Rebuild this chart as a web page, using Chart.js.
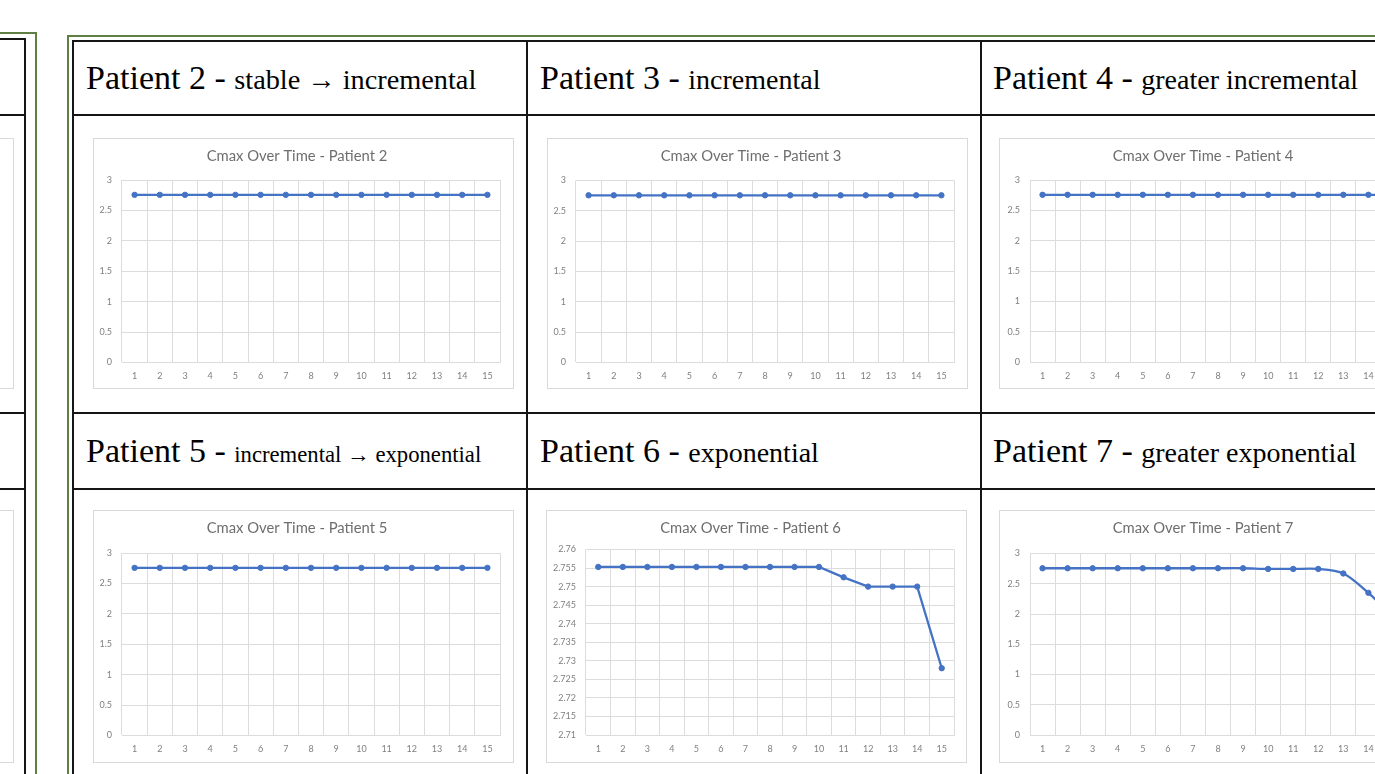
<!DOCTYPE html>
<html>
<head>
<meta charset="utf-8">
<script src="https://cdn.jsdelivr.net/npm/chart.js@4.4.1/dist/chart.umd.min.js"></script>
<style>
  html, body { margin: 0; padding: 0; background: #fff; }
  #page { position: relative; width: 1375px; height: 774px; overflow: hidden; background: #fff; }
  .rule { position: absolute; background: #151515; }
  .frame { position: absolute; background: #5f8045; }
  .box { position: absolute; box-sizing: border-box; border: 1px solid #d9d9d9; background: #fff; }
  .box canvas { position: absolute; left: 0; top: 0; filter: blur(0.45px); }
  .head { position: absolute; font-family: "Liberation Serif", "Times New Roman", serif;
          font-size: 34px; line-height: 40px; white-space: nowrap; color: #000; }
  .head .sub { font-size: 28px; }
</style>
</head>
<body>
<div id="page"></div>
<script>
// Sampling times (x axis categories)
const timePoints = ['1', '2', '3', '4', '5', '6', '7', '8', '9', '10', '11', '12', '13', '14', '15'];

// Cmax per patient over time
const cmaxPatient2 = [2.756, 2.756, 2.756, 2.756, 2.756, 2.756, 2.756, 2.756, 2.756, 2.756, 2.756, 2.756, 2.756, 2.756, 2.756];
const cmaxPatient3 = [2.756, 2.756, 2.756, 2.756, 2.756, 2.756, 2.756, 2.756, 2.756, 2.756, 2.756, 2.756, 2.756, 2.756, 2.756];
const cmaxPatient4 = [2.756, 2.756, 2.756, 2.756, 2.756, 2.756, 2.756, 2.756, 2.756, 2.756, 2.756, 2.756, 2.756, 2.756, 2.756];
const cmaxPatient5 = [2.756, 2.756, 2.756, 2.756, 2.756, 2.756, 2.756, 2.756, 2.756, 2.756, 2.756, 2.756, 2.756, 2.756, 2.756];
const cmaxPatient6 = [2.7553, 2.7553, 2.7553, 2.7553, 2.7553, 2.7553, 2.7553, 2.7553, 2.7553, 2.7553, 2.7525, 2.75, 2.75, 2.75, 2.728];
const cmaxPatient7 = [2.756, 2.756, 2.756, 2.756, 2.756, 2.756, 2.756, 2.756, 2.756, 2.745, 2.745, 2.745, 2.67, 2.35, 1.95];

// Table cell headings
const patientNames = ['Patient 2', 'Patient 3', 'Patient 4', 'Patient 5', 'Patient 6', 'Patient 7'];
const patientTrends = ['stable \u2192 incremental', 'incremental', 'greater incremental',
                       'incremental \u2192 exponential', 'exponential', 'greater exponential'];
const chartTitles = ['Cmax Over Time - Patient 2', 'Cmax Over Time - Patient 3', 'Cmax Over Time - Patient 4',
                     'Cmax Over Time - Patient 5', 'Cmax Over Time - Patient 6', 'Cmax Over Time - Patient 7'];

// Value axis ranges
const axisMin  = [0, 0, 0, 0, 2.71, 0];
const axisMax  = [3, 3, 3, 3, 2.76, 3];
const axisStep = [0.5, 0.5, 0.5, 0.5, 0.005, 0.5];

const seriesList = [cmaxPatient2, cmaxPatient3, cmaxPatient4, cmaxPatient5, cmaxPatient6, cmaxPatient7];

// ---- page geometry ----
const page = document.getElementById('page');
function rect(cls, x, y, w, h) {
  const d = document.createElement('div');
  d.className = cls;
  Object.assign(d.style, { left: x + 'px', top: y + 'px', width: w + 'px', height: h + 'px' });
  page.appendChild(d);
  return d;
}

// left-hand neighbouring table (only its right edge shows)
rect('frame', 0, 32, 37, 2);
rect('frame', 35, 32, 2, 760);
rect('rule', 0, 38, 26, 2);
rect('rule', 0, 114, 26, 2);
rect('rule', 0, 412, 26, 2);
rect('rule', 0, 488, 26, 2);
rect('rule', 24, 38, 2, 760);
rect('box', -408, 138, 422, 251);
rect('box', -408, 510, 422, 253);

// main table frame and rules
rect('frame', 67, 35, 1400, 2);
rect('frame', 67, 35, 2, 760);
rect('rule', 72, 40, 1400, 2);
rect('rule', 72, 114, 1400, 2);
rect('rule', 72, 412, 1400, 2);
rect('rule', 72, 488, 1400, 2);
rect('rule', 72, 40, 2, 760);
rect('rule', 526, 40, 2, 760);
rect('rule', 980, 40, 2, 760);

// headings
const colLeft = [73, 527, 980];
const rowBaselineTop = [58, 431];
const subSize = [28.3, 28, 28, 22.7, 28, 28];
for (let i = 0; i < 6; i++) {
  const d = document.createElement('div');
  d.className = 'head';
  d.style.left = (colLeft[i % 3] + 13) + 'px';
  d.style.top = rowBaselineTop[Math.floor(i / 3)] + 'px';
  const big = document.createElement('span');
  big.textContent = patientNames[i] + ' - ';
  const sub = document.createElement('span');
  sub.className = 'sub';
  sub.style.fontSize = subSize[i] + 'px';
  sub.textContent = patientTrends[i];
  d.appendChild(big);
  d.appendChild(sub);
  page.appendChild(d);
}

// chart frames: box position, plot insets inside the canvas
const panels = [
  { x: 93,  y: 138, h: 251, top: 41,   bottom: 25.5, yw: 28, right: 13 },
  { x: 547, y: 138, h: 251, top: 41.5, bottom: 25.5, yw: 28, right: 13 },
  { x: 999, y: 138, h: 251, top: 41,   bottom: 26,   yw: 30, right: 13 },
  { x: 93,  y: 510, h: 253, top: 42,   bottom: 26.5, yw: 28, right: 13 },
  { x: 546, y: 510, h: 253, top: 38.5, bottom: 27,   yw: 39, right: 12 },
  { x: 999, y: 510, h: 253, top: 42.5, bottom: 27,   yw: 30, right: 13 }
];
const lineTension = [0, 0, 0, 0, 0, 0.3];

const gridColor = '#dcdcdc';
const tickColor = '#808080';
const titleColor = '#6e6e6e';

panels.forEach((p, i) => {
  const box = rect('box', p.x, p.y, 421, p.h);
  const cv = document.createElement('canvas');
  cv.width = 419;
  cv.height = p.h - 2;
  box.appendChild(cv);

  const titleSize = 14.8, titleLH = 1.2, titlePadTop = 8.6;
  new Chart(cv, {
    type: 'line',
    data: {
      labels: timePoints,
      datasets: [{
        data: seriesList[i],
        borderColor: '#4472C4',
        backgroundColor: '#4472C4',
        borderWidth: 2.3,
        pointRadius: 2.7,
        pointBorderWidth: 1,
        pointBackgroundColor: '#4472C4',
        pointBorderColor: '#4472C4',
        tension: lineTension[i],
        fill: false
      }]
    },
    options: {
      responsive: false,
      animation: false,
      devicePixelRatio: 1,
      layout: { padding: { left: 0, right: p.right, top: 0, bottom: 0 } },
      plugins: {
        legend: { display: false },
        tooltip: { enabled: false },
        title: {
          display: true,
          text: chartTitles[i],
          color: titleColor,
          font: { family: 'Lato', size: titleSize, weight: 'normal', lineHeight: titleLH },
          padding: { top: titlePadTop, bottom: p.top - titlePadTop - titleSize * titleLH }
        }
      },
      scales: {
        x: {
          offset: true,
          grid: { offset: true, color: gridColor, drawTicks: false },
          border: { color: gridColor },
          ticks: { color: tickColor, font: { family: 'Lato', size: 9 }, padding: 8.5,
                   maxRotation: 0, autoSkip: false },
          afterFit(s) { s.height = p.bottom; }
        },
        y: {
          min: axisMin[i],
          max: axisMax[i],
          grid: { color: gridColor, drawTicks: false },
          border: { display: false },
          ticks: { stepSize: axisStep[i], color: tickColor, font: { family: 'Lato', size: 9 },
                   padding: 10, callback: v => String(+(+v).toFixed(3)) },
          afterFit(s) { s.width = p.yw; }
        }
      }
    }
  });
});
</script>
</body>
</html>
